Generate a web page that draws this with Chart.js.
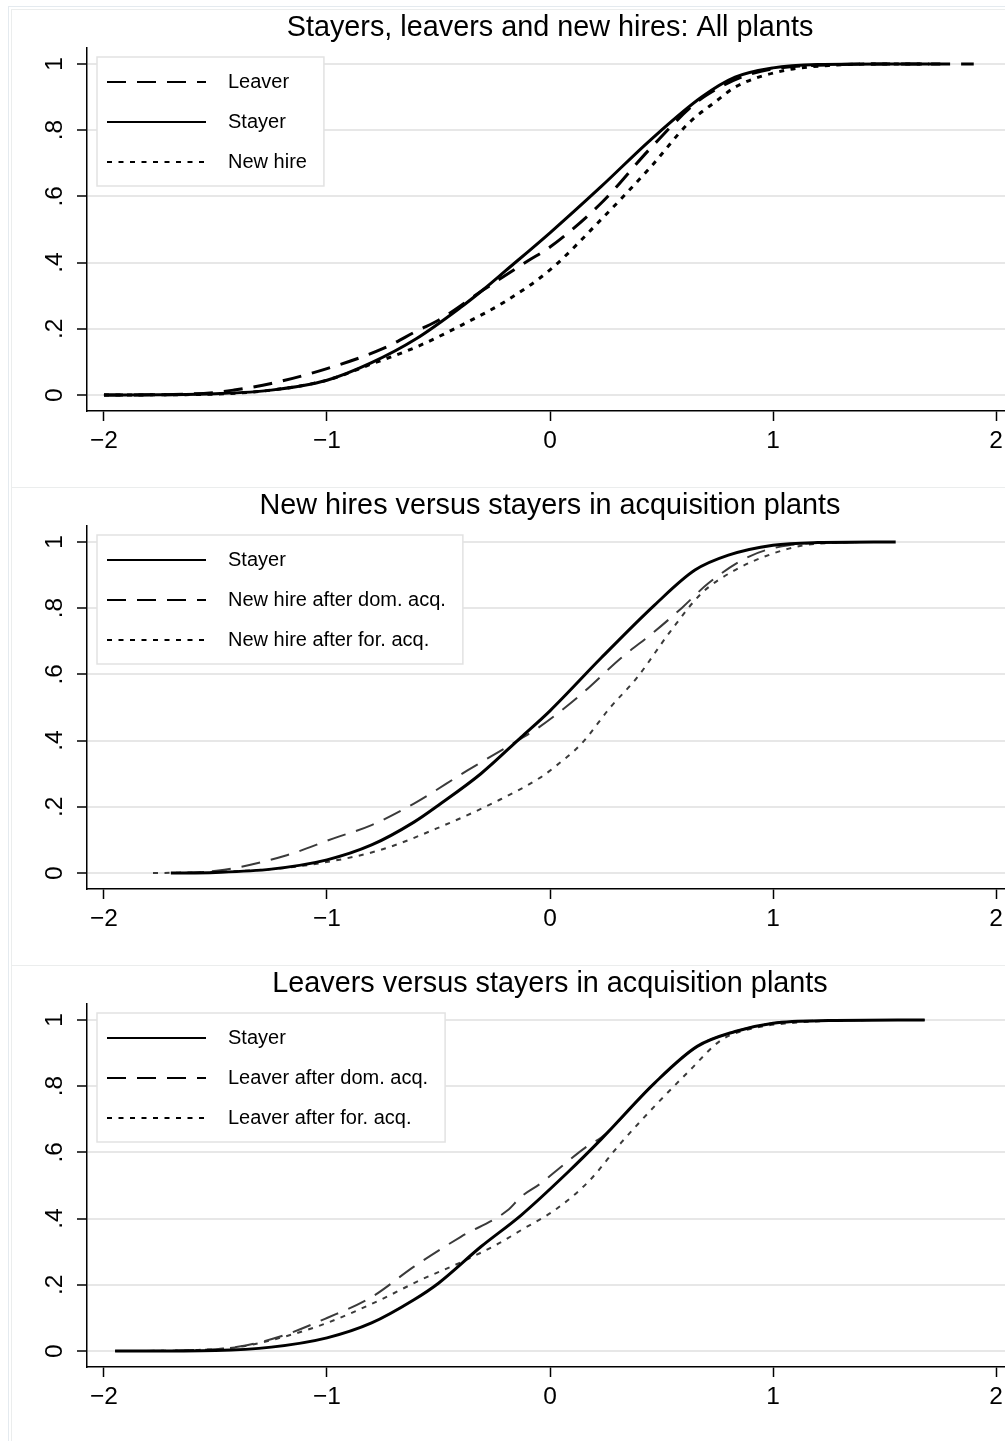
<!DOCTYPE html>
<html><head><meta charset="utf-8">
<script src="https://cdn.jsdelivr.net/npm/chart.js@4.4.1/dist/chart.umd.min.js"></script>
<style>
html,body{margin:0;padding:0;background:#fff;width:1005px;height:1441px;overflow:hidden;}
#wrap{position:relative;width:1005px;height:1441px;overflow:hidden;background:#fff;}
.frame{position:absolute;box-sizing:border-box;}
.panel{position:absolute;left:0;width:1013px;height:478px;}
canvas{display:block;}
</style></head><body>
<div id="wrap">
 <div class="frame" style="left:8px;top:6px;width:1100px;height:1500px;border-left:1.5px solid #e4eaef;border-top:1.5px solid #e4eaef;"></div>
 <div class="frame" style="left:11px;top:9px;width:1100px;height:478px;border-left:1.5px solid #ebeded;border-top:1.5px solid #ebeded;"></div>
 <div class="frame" style="left:11px;top:487px;width:1100px;height:478px;border-left:1.5px solid #ebeded;border-top:1.5px solid #ebeded;"></div>
 <div class="frame" style="left:11px;top:965px;width:1100px;height:500px;border-left:1.5px solid #ebeded;border-top:1.5px solid #ebeded;"></div>
 <div class="panel" style="top:8px"><canvas id="c1" width="1013" height="478"></canvas></div>
 <div class="panel" style="top:486px"><canvas id="c2" width="1013" height="478"></canvas></div>
 <div class="panel" style="top:964px"><canvas id="c3" width="1013" height="478"></canvas></div>
</div>
<script>
// ---- axis ticks ----
const xTickValues = [-2, -1, 0, 1, 2];
const xTickLabels = ['\u22122', '\u22121', '0', '1', '2'];
const yTickValues = [0, 0.2, 0.4, 0.6, 0.8, 1];
const yTickLabels = ['0', '.2', '.4', '.6', '.8', '1'];

// ---- titles ----
const titles = [
  'Stayers, leavers and new hires: All plants',
  'New hires versus stayers in acquisition plants',
  'Leavers versus stayers in acquisition plants'
];

// ---- Panel 1: All plants ----
const p1LeaverX  = [-2, -1.75, -1.5, -1.42, -1.25, -1, -0.75, -0.59, -0.5, -0.3, -0.1, 0, 0.23, 0.45, 0.65, 0.75, 0.85, 1, 1.25, 1.5, 1.9];
const p1LeaverY  = [0, 0.001, 0.008, 0.015, 0.035, 0.08, 0.14, 0.196, 0.226, 0.317, 0.405, 0.447, 0.58, 0.745, 0.88, 0.925, 0.958, 0.985, 0.997, 1, 1];
const p1StayerX  = [-2, -1.75, -1.5, -1.25, -1, -0.8, -0.6, -0.4, -0.3, -0.2, 0, 0.23, 0.45, 0.68, 0.83, 1, 1.2, 1.5, 1.75];
const p1StayerY  = [0, 0.001, 0.004, 0.015, 0.045, 0.098, 0.17, 0.265, 0.318, 0.375, 0.49, 0.63, 0.77, 0.9, 0.96, 0.988, 0.998, 1, 1];
const p1NewHireX = [-2, -1.75, -1.5, -1.25, -1, -0.8, -0.6, -0.4, -0.2, 0, 0.229, 0.453, 0.62, 0.75, 0.83, 1.05, 1.25, 1.5, 1.7];
const p1NewHireY = [0, 0.001, 0.003, 0.015, 0.045, 0.094, 0.145, 0.21, 0.283, 0.378, 0.53, 0.69, 0.82, 0.89, 0.93, 0.98, 0.995, 1, 1];

// ---- Panel 2: New hires vs stayers in acquisition plants ----
const p2StayerX  = [-1.7, -1.5, -1.25, -1, -0.8, -0.61, -0.5, -0.31, -0.13, 0, 0.23, 0.47, 0.65, 0.8, 1, 1.2, 1.55];
const p2StayerY  = [0, 0.002, 0.012, 0.04, 0.085, 0.154, 0.205, 0.3, 0.41, 0.49, 0.65, 0.81, 0.915, 0.96, 0.99, 0.998, 1];
const p2DomHireX = [-1.65, -1.46, -1.18, -0.97, -0.8, -0.61, -0.37, -0.17, -0.05, 0.14, 0.32, 0.47, 0.59, 0.71, 0.89, 1.07, 1.3, 1.5];
const p2DomHireY = [0, 0.01, 0.054, 0.105, 0.145, 0.21, 0.31, 0.39, 0.44, 0.54, 0.65, 0.73, 0.8, 0.875, 0.955, 0.99, 0.998, 1];
const p2ForHireX = [-1.78, -1.5, -1.25, -1.03, -0.76, -0.49, -0.23, -0.04, 0.02, 0.14, 0.27, 0.39, 0.54, 0.68, 0.83, 1, 1.14, 1.3, 1.5];
const p2ForHireY = [0, 0.004, 0.012, 0.03, 0.07, 0.14, 0.22, 0.29, 0.32, 0.39, 0.5, 0.59, 0.73, 0.845, 0.915, 0.965, 0.99, 0.998, 1];

// ---- Panel 3: Leavers vs stayers in acquisition plants ----
const p3StayerX   = [-1.95, -1.5, -1.25, -1, -0.8, -0.61, -0.5, -0.31, -0.13, 0.08, 0.23, 0.47, 0.66, 0.83, 1, 1.25, 1.68];
const p3StayerY   = [0, 0.002, 0.012, 0.04, 0.085, 0.155, 0.205, 0.315, 0.41, 0.54, 0.64, 0.81, 0.92, 0.965, 0.99, 0.998, 1];
const p3DomLeavX  = [-1.95, -1.6, -1.4, -1.21, -1, -0.8, -0.61, -0.4, -0.19, -0.13, -0.04, 0.02, 0.17, 0.23, 0.47, 0.66, 0.83, 1, 1.25, 1.68];
const p3DomLeavY  = [0, 0.003, 0.013, 0.044, 0.1, 0.163, 0.255, 0.345, 0.425, 0.466, 0.507, 0.54, 0.62, 0.645, 0.81, 0.92, 0.965, 0.99, 0.998, 1];
const p3ForLeavX  = [-1.95, -1.6, -1.4, -1.21, -1, -0.76, -0.58, -0.41, -0.23, -0.13, 0.02, 0.17, 0.32, 0.47, 0.62, 0.77, 0.95, 1.07, 1.3, 1.6];
const p3ForLeavY  = [0, 0.003, 0.012, 0.04, 0.085, 0.155, 0.215, 0.265, 0.325, 0.365, 0.425, 0.51, 0.63, 0.74, 0.843, 0.94, 0.98, 0.99, 0.998, 1];

const FONT = '"Liberation Sans", Arial, Helvetica, sans-serif';
const zip = (xs, ys) => xs.map((x, i) => ({x: x, y: ys[i]}));

const DASH = [19, 11];
const DOT = [5, 6.5];

function ds(label, xs, ys, color, width, dash) {
  return {
    label: label, data: zip(xs, ys),
    borderColor: color, borderWidth: width, borderDash: dash,
    pointRadius: 0, pointHoverRadius: 0, fill: false,
    cubicInterpolationMode: 'monotone', borderCapStyle: 'butt'
  };
}

const boxLegend = {
  id: 'boxLegend',
  afterDatasetsDraw(chart) {
    const ctx = chart.ctx, a = chart.chartArea;
    const bx = a.left + 10, by = a.top + 9;
    ctx.save();
    ctx.font = '20px ' + FONT;
    let tw = 0;
    chart.data.datasets.forEach(d => { tw = Math.max(tw, ctx.measureText(d.label).width); });
    const w = 131 + tw + 17, h = 129;
    ctx.fillStyle = '#fff';
    ctx.fillRect(bx, by, w, h);
    ctx.strokeStyle = '#e2e2e2';
    ctx.lineWidth = 1.5;
    ctx.setLineDash([]);
    ctx.strokeRect(bx, by, w, h);
    chart.data.datasets.forEach((d, i) => {
      const y = by + 25 + 40 * i;
      ctx.beginPath();
      ctx.setLineDash(d.borderDash || []);
      ctx.lineWidth = 2.2;
      ctx.strokeStyle = '#000';
      ctx.moveTo(bx + 10, y);
      ctx.lineTo(bx + 109, y);
      ctx.stroke();
      ctx.setLineDash([]);
      ctx.fillStyle = '#000';
      ctx.textBaseline = 'middle';
      ctx.textAlign = 'left';
      ctx.fillText(d.label, bx + 131, y);
    });
    ctx.restore();
  }
};

function makeChart(id, title, datasets) {
  return new Chart(document.getElementById(id), {
    type: 'line',
    data: {datasets: datasets},
    plugins: [boxLegend],
    options: {
      responsive: false,
      animation: false,
      devicePixelRatio: 1,
      layout: {padding: 0},
      plugins: {
        legend: {display: false},
        tooltip: {enabled: false},
        title: {
          display: true, text: title, fullSize: false, color: '#000',
          font: {family: FONT, size: 28.8, weight: 'normal', lineHeight: 1.2},
          padding: {top: 3, bottom: 2.44}
        }
      },
      scales: {
        x: {
          type: 'linear', min: -2.076, max: 2.076,
          afterBuildTicks: s => { s.ticks = xTickValues.map(v => ({value: v})); },
          afterFit: s => { s.height = 75; },
          grid: {drawOnChartArea: false, drawTicks: true, tickLength: 10, tickColor: '#000', tickWidth: 1.5},
          border: {display: true, color: '#000', width: 1.5},
          ticks: {
            color: '#000', padding: 6, maxRotation: 0, minRotation: 0, autoSkip: false,
            font: {family: FONT, size: 24.5},
            callback: (v, i) => xTickLabels[i]
          }
        },
        y: {
          type: 'linear', min: -0.048, max: 1.048,
          afterBuildTicks: s => { s.ticks = yTickValues.map(v => ({value: v})); },
          afterFit: s => { s.width = 87; },
          grid: {drawOnChartArea: true, color: '#e7e7e7', lineWidth: 2, drawTicks: true, tickLength: 10, tickColor: '#000', tickWidth: 1.5},
          border: {display: true, color: '#000', width: 1.5},
          ticks: {
            color: '#000', padding: 12, minRotation: 90, maxRotation: 90, crossAlign: 'center', autoSkip: false,
            font: {family: FONT, size: 24.5},
            callback: (v, i) => yTickLabels[i]
          }
        }
      }
    }
  });
}

const GRAY = '#3a3a3a';

makeChart('c1', titles[0], [
  ds('Leaver', p1LeaverX, p1LeaverY, '#000', 3, DASH),
  ds('Stayer', p1StayerX, p1StayerY, '#000', 3, []),
  ds('New hire', p1NewHireX, p1NewHireY, '#000', 3, DOT)
]);
makeChart('c2', titles[1], [
  ds('Stayer', p2StayerX, p2StayerY, '#000', 3, []),
  ds('New hire after dom. acq.', p2DomHireX, p2DomHireY, GRAY, 2, DASH),
  ds('New hire after for. acq.', p2ForHireX, p2ForHireY, GRAY, 2, DOT)
]);
makeChart('c3', titles[2], [
  ds('Stayer', p3StayerX, p3StayerY, '#000', 3, []),
  ds('Leaver after dom. acq.', p3DomLeavX, p3DomLeavY, GRAY, 2, DASH),
  ds('Leaver after for. acq.', p3ForLeavX, p3ForLeavY, GRAY, 2, DOT)
]);
</script>
</body></html>
